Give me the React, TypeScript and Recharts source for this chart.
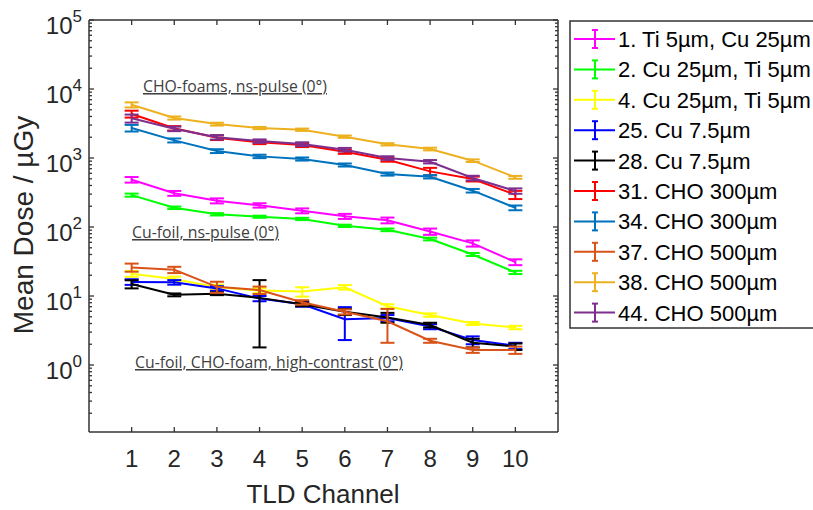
import { LineChart, Line, XAxis, YAxis, ErrorBar } from 'recharts';

// TLD channel numbers
const channels = [1, 2, 3, 4, 5, 6, 7, 8, 9, 10];

// mean dose per channel (µGy) and its error, one pair per shot
const s1 = [485, 308, 240, 206, 172, 143, 125, 86, 58, 31];
const e1 = [45, 25, 20, 15, 14, 12, 12, 9, 6, 3];
const s2 = [290, 190, 153, 141, 131, 104, 91, 67, 40, 22];
const e2 = [15, 8, 6, 5, 5, 4, 4, 3, 2, 1.2];
const s4 = [21, 17.6, 13.4, 12, 11.6, 13.4, 7.1, 5.3, 4.0, 3.5];
const e4 = [2, 1.5, 1.2, 1, 1.8, 1, 0.5, 0.3, 0.2, 0.2];
const s25 = [16, 15.8, 12.9, 9.2, 7.6, 4.6, 4.8, 3.6, 2.3, 1.9];
const e25 = [1.5, 1.2, 1, 0.8, 0.6, 2.3, 0.5, 0.3, 0.3, 0.2];
const s28 = [14.9, 10.4, 10.8, 9.4, 7.6, 5.9, 4.9, 3.8, 2.1, 1.85];
const e28 = [2, 0.5, 0.5, 7.6, 0.5, 0.6, 0.8, 0.3, 0.3, 0.2];
const s31 = [4350, 2700, 1970, 1690, 1540, 1230, 945, 640, 497, 294];
const e31 = [500, 200, 150, 100, 100, 80, 60, 80, 40, 40];
const s34 = [2720, 1800, 1260, 1056, 968, 793, 586, 535, 336, 190];
const e34 = [300, 120, 80, 60, 50, 40, 30, 30, 20, 15];
const s37 = [26, 24, 13.6, 12.2, 8.1, 5.9, 4.3, 2.25, 1.65, 1.65];
const e37 = [3.5, 2.5, 2.5, 1.5, 0.6, 0.5, 2.2, 0.15, 0.15, 0.2];
const s38 = [5900, 3800, 3100, 2720, 2570, 2040, 1580, 1350, 915, 525];
const e38 = [500, 200, 150, 100, 100, 80, 60, 60, 40, 25];
const s44 = [3760, 2650, 2000, 1760, 1590, 1320, 1000, 884, 513, 333];
const e44 = [500, 200, 150, 100, 100, 80, 60, 50, 40, 30];

const seriesNames = [
  '1. Ti 5µm, Cu 25µm',
  '2. Cu 25µm, Ti 5µm',
  '4. Cu 25µm, Ti 5µm',
  '25. Cu 7.5µm',
  '28. Cu 7.5µm',
  '31. CHO 300µm',
  '34. CHO 300µm',
  '37. CHO 500µm',
  '38. CHO 500µm',
  '44. CHO 500µm',
];
const seriesColors = [
  '#FF00FF', '#00FF00', '#FFFF00', '#0000FF', '#000000',
  '#FF0000', '#0072BD', '#D95319', '#EDB120', '#7E2F8E',
];
const seriesValues = [s1, s2, s4, s25, s28, s31, s34, s37, s38, s44];
const seriesErrors = [e1, e2, e4, e25, e28, e31, e34, e37, e38, e44];

// axis ticks
const yMajor = [1, 10, 100, 1000, 10000, 100000];
const yMinor: number[] = [];
for (const d of [0.1, 1, 10, 100, 1000, 10000]) {
  for (let m = 2; m <= 9; m++) yMinor.push(+(d * m).toPrecision(3));
}
const yTicks = [...yMajor, ...yMinor].sort((a, b) => a - b);
const Y_DOMAIN: [number, number] = [0.107, 100000];

const data = channels.map((ch, i) => {
  const row: Record<string, number> = { ch };
  seriesValues.forEach((vals, k) => {
    row[`v${k}`] = vals[i];
    row[`e${k}`] = seriesErrors[k][i];
  });
  return row;
});

const AXIS = '#333';
const FONT = '"Liberation Sans", Arial, sans-serif';

function LeftTick({ x, y, payload }: any) {
  const v = payload.value;
  const major = yMajor.includes(v);
  return (
    <g>
      <line x1={x} x2={x + (major ? 5 : 3)} y1={y} y2={y} stroke={AXIS} strokeWidth={1.3} />
      {major && (
        <text x={x - 7} y={y + 14} textAnchor="end" fontSize={24} fill="#262626" fontFamily={FONT}>
          10<tspan dy={-12} fontSize={17}>{Math.round(Math.log10(v))}</tspan>
        </text>
      )}
    </g>
  );
}

function RightTick({ x, y, payload }: any) {
  const major = yMajor.includes(payload.value);
  return <line x1={x} x2={x - (major ? 5 : 3)} y1={y} y2={y} stroke={AXIS} strokeWidth={1.3} />;
}

function BottomTick({ x, y, payload }: any) {
  return (
    <g>
      <line x1={x} x2={x} y1={y} y2={y - 5} stroke={AXIS} strokeWidth={1.3} />
      <text x={x} y={y + 35} textAnchor="middle" fontSize={24} fill="#262626" fontFamily={FONT}>
        {payload.value}
      </text>
    </g>
  );
}

function TopTick({ x, y }: any) {
  return <line x1={x} x2={x} y1={y} y2={y + 5} stroke={AXIS} strokeWidth={1.3} />;
}

function LegendBox() {
  const top = 39;
  const step = 30.4;
  return (
    <g>
      <rect x={570} y={21} width={260} height={307} fill="#fff" stroke={AXIS} strokeWidth={1.5} />
      {seriesNames.map((name, i) => {
        const cy = top + i * step;
        const c = seriesColors[i];
        return (
          <g key={name}>
            <line x1={574} x2={615} y1={cy} y2={cy} stroke={c} strokeWidth={2} />
            <line x1={595} x2={595} y1={cy - 9} y2={cy + 9} stroke={c} strokeWidth={2} />
            <line x1={592} x2={598} y1={cy - 9} y2={cy - 9} stroke={c} strokeWidth={2} />
            <line x1={592} x2={598} y1={cy + 9} y2={cy + 9} stroke={c} strokeWidth={2} />
            <text x={618} y={cy + 8} fontSize={22} fill="#000" fontFamily={FONT}>
              {name}
            </text>
          </g>
        );
      })}
    </g>
  );
}

const noteStyle = {
  fontFamily: '"Open Sans", "Noto Sans", sans-serif',
  fontSize: 15.5,
  fill: '#404040',
  textDecoration: 'underline',
} as const;

export default function App() {
  return (
    <div style={{ position: 'absolute', left: 0, top: 0, width: 813, height: 510, overflow: 'hidden', background: '#fff' }}>
      <LineChart width={813} height={510} data={data} margin={{ top: 19, right: 254, bottom: 18, left: 29 }}>
        <XAxis
          dataKey="ch"
          type="number"
          domain={[0, 11]}
          ticks={channels}
          allowDataOverflow
          interval={0}
          height={60}
          tickSize={0}
          tickMargin={0}
          tickLine={false}
          axisLine={{ stroke: AXIS, strokeWidth: 1.5 }}
          tick={<BottomTick />}
        />
        <XAxis
          xAxisId="top"
          orientation="top"
          dataKey="ch"
          type="number"
          domain={[0, 11]}
          ticks={channels}
          allowDataOverflow
          interval={0}
          height={1}
          tickSize={0}
          tickMargin={0}
          tickLine={false}
          axisLine={{ stroke: AXIS, strokeWidth: 1.5 }}
          tick={<TopTick />}
        />
        <YAxis
          type="number"
          scale="log"
          domain={Y_DOMAIN}
          ticks={yTicks}
          allowDataOverflow
          interval={0}
          width={60}
          tickSize={0}
          tickMargin={0}
          tickLine={false}
          axisLine={{ stroke: AXIS, strokeWidth: 1.5 }}
          tick={<LeftTick />}
        />
        <YAxis
          yAxisId="right"
          orientation="right"
          type="number"
          scale="log"
          domain={Y_DOMAIN}
          ticks={yTicks}
          allowDataOverflow
          interval={0}
          width={1}
          tickSize={0}
          tickMargin={0}
          tickLine={false}
          axisLine={{ stroke: AXIS, strokeWidth: 1.5 }}
          tick={<RightTick />}
        />
        {seriesNames.map((name, k) => (
          <Line
            key={name}
            name={name}
            dataKey={`v${k}`}
            stroke={seriesColors[k]}
            strokeWidth={2}
            dot={false}
            isAnimationActive={false}
          >
            <ErrorBar dataKey={`e${k}`} direction="y" width={7} stroke={seriesColors[k]} strokeWidth={2} />
          </Line>
        ))}
      </LineChart>
      <svg width={813} height={510} style={{ position: 'absolute', left: 0, top: 0, pointerEvents: 'none' }}>
        <text x={143} y={92} textLength={184} lengthAdjust="spacingAndGlyphs" style={noteStyle}>
          CHO-foams, ns-pulse (0°)
        </text>
        <text x={132} y={238} textLength={147} lengthAdjust="spacingAndGlyphs" style={noteStyle}>
          Cu-foil, ns-pulse (0°)
        </text>
        <text x={135} y={368} textLength={268} lengthAdjust="spacingAndGlyphs" style={noteStyle}>
          Cu-foil, CHO-foam, high-contrast (0°)
        </text>
        <text x={323} y={503} textAnchor="middle" fontSize={26} fill="#262626" fontFamily={FONT}>
          TLD Channel
        </text>
        <text
          x={33}
          y={225}
          transform="rotate(-90, 33, 225)"
          textAnchor="middle"
          fontSize={28}
          fill="#262626"
          fontFamily={FONT}
        >
          Mean Dose / µGy
        </text>
        <LegendBox />
      </svg>
    </div>
  );
}
